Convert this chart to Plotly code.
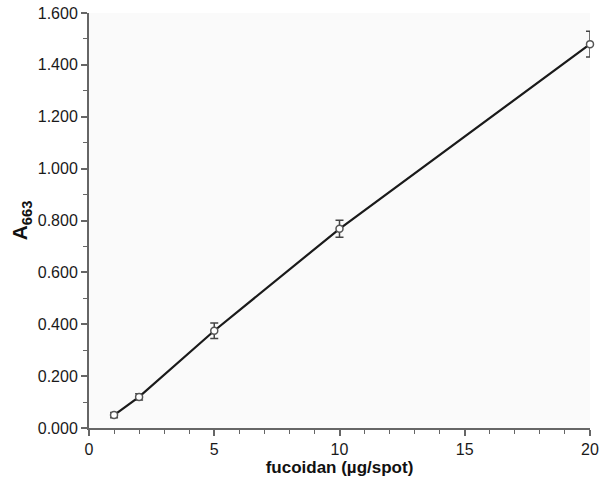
import plotly.graph_objects as go

fucoidan = [1, 2, 5, 10, 20]
a663 = [0.050, 0.120, 0.375, 0.768, 1.480]
a663_err = [0.010, 0.012, 0.030, 0.033, 0.050]

fig = go.Figure()
fig.add_trace(go.Scatter(
    x=fucoidan, y=a663,
    mode="lines+markers",
    line=dict(color="#1a1a1a", width=2.2),
    marker=dict(symbol="circle", size=7, color="white",
                line=dict(color="#555555", width=1.5)),
    error_y=dict(type="data", array=a663_err, visible=True,
                 color="#444444", thickness=1.5, width=4),
    cliponaxis=False,
    showlegend=False,
))

axis_font = dict(family="Liberation Sans, Arial, sans-serif", size=16, color="#1a1a1a")

fig.update_layout(
    width=604, height=480,
    margin=dict(l=89, r=14, t=13, b=52),
    paper_bgcolor="white",
    plot_bgcolor="#fafafa",
    font=axis_font,
    xaxis=dict(
        range=[0, 20], tickmode="linear", tick0=0, dtick=5, automargin=False,
        ticks="outside", ticklen=6, tickwidth=1.5, tickcolor="#666666",
        showline=True, linecolor="#666666", linewidth=2,
        showgrid=False, zeroline=False,
        minor=dict(dtick=1, ticks="outside", ticklen=4, tickwidth=1.2, tickcolor="#666666", showgrid=False),
        tickfont=axis_font,
        title=dict(text="<b>fucoidan (µg/spot)</b>", standoff=4,
                   font=dict(family="Liberation Sans, Arial, sans-serif", size=17, color="#111111")),
    ),
    yaxis=dict(
        range=[0, 1.6], tickmode="linear", tick0=0, dtick=0.2, tickformat=".3f", automargin=False,
        ticks="outside", ticklen=6, tickwidth=1.5, tickcolor="#666666",
        showline=True, linecolor="#666666", linewidth=2,
        showgrid=False, zeroline=False,
        minor=dict(dtick=0.1, ticks="outside", ticklen=4, tickwidth=1.2, tickcolor="#666666", showgrid=False),
        tickfont=axis_font,
        title=dict(text="<b>A<sub>663</sub></b>", standoff=4,
                   font=dict(family="Liberation Sans, Arial, sans-serif", size=21, color="#111111")),
    ),
)

fig.write_html("out.html",
               config={"displayModeBar": False},
               post_script="document.body.style.margin='0';document.body.style.overflow='hidden';")
